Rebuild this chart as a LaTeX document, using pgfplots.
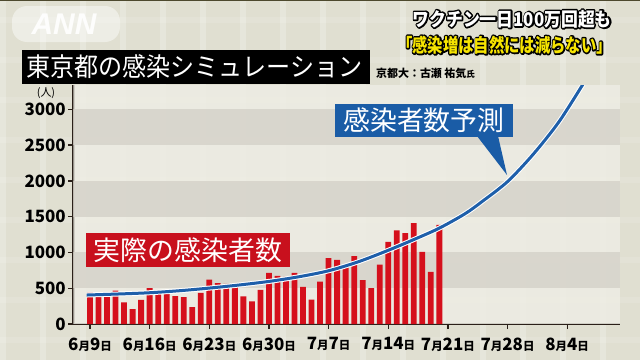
\documentclass[border=0pt]{standalone}
\usepackage{fontspec}
\setmainfont{Noto Sans CJK JP}
\newfontfamily\latin{Liberation Sans}
\usepackage{graphicx}
\usepackage{pgfplots}
\pgfplotsset{compat=1.18}
\definecolor{bg}{HTML}{E0DFD1}
\definecolor{bandlight}{HTML}{EEEDE4}
\definecolor{banddark}{HTML}{D7D4CB}
\definecolor{barred}{HTML}{D5101C}
\definecolor{curveblue}{HTML}{1E5FAA}
\definecolor{boxblue}{HTML}{1A5CA6}
\definecolor{boxred}{HTML}{C8101D}
\definecolor{axisc}{HTML}{2A2019}
\definecolor{capyellow}{HTML}{F6E400}
\newcommand\md[2]{#1{\fontsize{11.5}{12}\selectfont 月}#2{\fontsize{11.5}{12}\selectfont 日}}
\newcommand\strokeon{\special{pdf:literal direct 1 Tr 3.2 w 1 j 0 0 0 RG}}
\newcommand\strokeoff{\special{pdf:literal direct 0 Tr}}
\newcommand\outlinetext[4]{%
  \node[anchor=east, text=black, inner sep=0pt] at (#1,#2) {\strokeon#4\strokeoff};
  \node[anchor=east, text=#3, inner sep=0pt] at (#1,#2) {#4};}
\begin{document}
\begin{tikzpicture}
\fill[bg] (0,0) rectangle (640bp,-360bp);
\useasboundingbox (0,0) rectangle (640bp,-360bp);
\begin{scope}[x=1bp,y=-1bp]
\foreach \xx in {3,43,...,643} {\fill[white, opacity=0.22] (\xx-3,0) rectangle (\xx+3,360);}
\foreach \yy in {20,60,...,360} {\fill[white, opacity=0.12] (0,\yy-3) rectangle (640,\yy+3);}
\fill[black!60!olive] (0,0) rectangle (640,1.5);
\end{scope}
\begin{axis}[
  at={(73.3bp,-324bp)}, anchor=south west,
  scale only axis, width=546.7bp, height=239bp,
  xmin=-1.96, xmax=62.2, ymin=0, ymax=3340,
  axis x line*=bottom, axis y line*=left,
  axis line style={-, line width=2.6bp, draw=axisc},
  ytick={0,500,1000,1500,2000,2500,3000},
  xtick={0,7,14,21,28,35,42,49,56},
  xticklabels={\md{6}{9},\md{6}{16},\md{6}{23},\md{6}{30},\md{7}{7},\md{7}{14},\md{7}{21},\md{7}{28},\md{8}{4}},
  tick style={line width=1.3bp, draw=axisc},
  major tick length=5bp, tick align=outside,
  /pgf/number format/assume math mode=true,
  /pgf/number format/1000 sep={},
  scaled y ticks=false,
  y tick label style={font=\bfseries\fontsize{17}{17}\selectfont, text=black, xshift=1bp},
  x tick label style={font=\bfseries\fontsize{17}{17}\selectfont, text=black, yshift=-5bp},
  clip=true,
]
\fill[bandlight, opacity=0.85] (axis cs:-1.96,0) rectangle (axis cs:62.2,3340);
\fill[banddark, opacity=0.9] (axis cs:-1.96,500) rectangle (axis cs:62.2,1000);
\fill[banddark, opacity=0.9] (axis cs:-1.96,1500) rectangle (axis cs:62.2,2000);
\fill[banddark, opacity=0.9] (axis cs:-1.96,2500) rectangle (axis cs:62.2,3000);
\addplot[ybar, bar width=5.8bp, fill=barred, draw=none] coordinates {
(0,440) (1,439) (2,435) (3,467) (4,304) (5,209) (6,337)
(7,501) (8,452) (9,453) (10,388) (11,376) (12,236) (13,435)
(14,619) (15,570) (16,562) (17,534) (18,386) (19,317) (20,476)
(21,714) (22,673) (23,660) (24,716) (25,518) (26,342) (27,593)
(28,920) (29,896) (30,822) (31,950) (32,614) (33,502) (34,830)
(35,1149) (36,1308) (37,1271) (38,1410) (39,1008) (40,727) (41,1387)
};
\addplot[smooth, white, line width=5bp] coordinates {
(-0.4,405) (3.5,420) (7,437) (10.5,465) (14,502) (17.5,545) (21,595) (24.5,660)
(28,744) (31.5,870) (35,1030) (38,1180) (41,1340) (44,1540) (46,1710)
(49,1990) (52,2370) (55,2820) (57.8,3340) (58.2,3420)
};
\addplot[smooth, curveblue, line width=3bp] coordinates {
(-0.4,405) (3.5,420) (7,437) (10.5,465) (14,502) (17.5,545) (21,595) (24.5,660)
(28,744) (31.5,870) (35,1030) (38,1180) (41,1340) (44,1540) (46,1710)
(49,1990) (52,2370) (55,2820) (57.8,3340) (58.2,3420)
};
\end{axis}
\begin{scope}[x=1bp,y=-1bp]
% ANN logo
\fill[white, opacity=0.45, rounded corners=15bp] (12,6) rectangle (120,42);
\node[white, opacity=0.9, inner sep=0pt, font=\latin\bfseries\itshape\fontsize{30}{30}\selectfont] at (64,24) {ANN};
% title
\fill[black] (22,50) rectangle (370,84);
\node[white, anchor=west, inner sep=0pt, font=\fontsize{26}{26}\selectfont] at (26,67) {\scalebox{0.93}[1]{東京都の感染シミュレーション}};
\node[black, anchor=west, inner sep=0pt, font=\bfseries\fontsize{11}{11}\selectfont] at (376,73) {京都大：古瀬 祐気{\fontsize{8.5}{9}\selectfont 氏}};
% unit
\node[black, inner sep=0pt, font=\fontsize{11}{11}\selectfont] at (46,93) {(人)};
% blue callout
\fill[boxblue] (477,136) -- (498,136) -- (507,175) -- cycle;
\fill[boxblue] (335,104) rectangle (513,137);
\node[white, inner sep=0pt, font=\fontsize{27}{27}\selectfont] at (424,120.5) {感染者数予測};
% red box
\fill[boxred] (86,233) rectangle (290,267);
\node[white, inner sep=0pt, font=\fontsize{27}{27}\selectfont] at (188,250) {実際の感染者数};
% top-right caption (outlined)
\outlinetext{612}{19}{white}{\bfseries\fontsize{19}{19}\selectfont\scalebox{0.89}[1]{ワクチン一日100万回超も}}
\outlinetext{612}{45}{capyellow}{\bfseries\fontsize{19}{19}\selectfont\scalebox{0.81}[1]{「感染増は自然には減らない」}}
\end{scope}
\end{tikzpicture}
\end{document}
